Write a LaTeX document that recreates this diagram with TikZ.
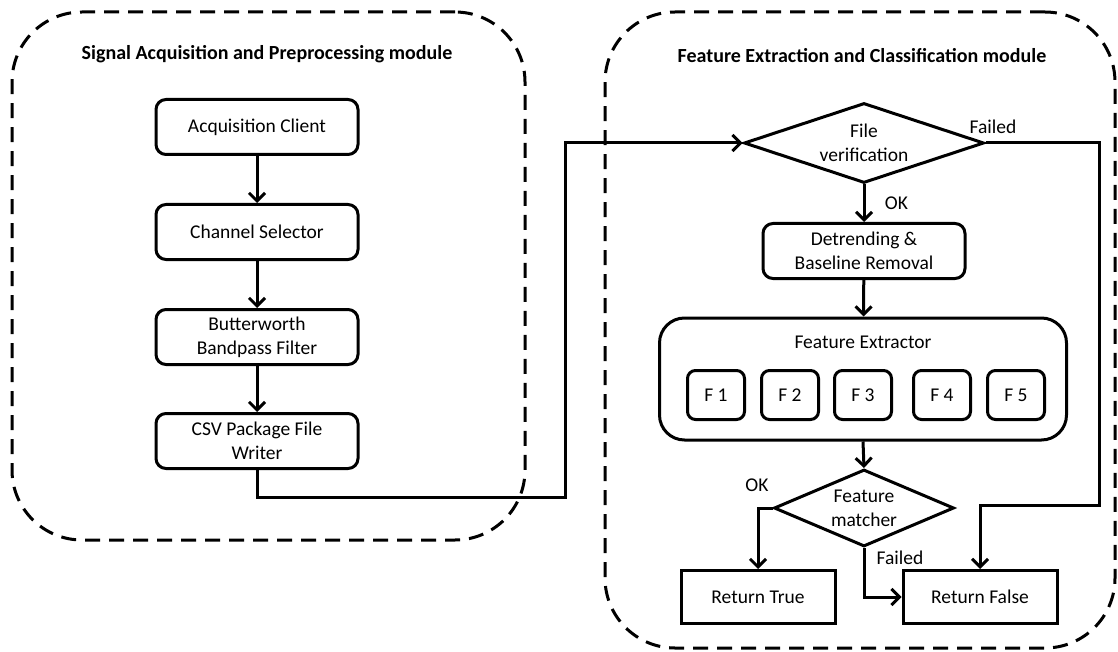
\documentclass[tikz,border=0pt]{standalone}
\usepackage{fontspec}
\setmainfont{Carlito}
\usetikzlibrary{shapes.geometric,arrows.meta}

\tikzset{
  box/.style={draw, line width=3pt, rounded corners=10pt, align=center,
    minimum width=202pt, minimum height=55pt, inner sep=2pt},
  fbox/.style={draw, line width=3pt, rounded corners=8pt,
    minimum width=57pt, minimum height=49pt},
  endbox/.style={draw, line width=3pt, minimum width=154pt, minimum height=53pt},
  decision/.style={draw, diamond, line width=3pt, align=center, inner sep=0pt,
    shape aspect=3},
  module/.style={draw, dashed, line width=3pt, dash pattern=on 15pt off 9pt,
    rounded corners=70pt},
  title/.style={font=\fontsize{20}{23}\selectfont\bfseries},
  arrow/.style={line width=3pt, -{Straight Barb[length=8pt,width=16pt,line width=3pt]}},
}

\begin{document}
\begin{tikzpicture}[x=1pt, y=-1pt, font=\fontsize{19.5}{24}\selectfont]
  \useasboundingbox (0,0) rectangle (1118,652);

  % modules
  \node[module, minimum width=513pt, minimum height=528pt] (leftmod) at (268.5,276) {};
  \node[module, minimum width=510pt, minimum height=636pt] (rightmod) at (860,330) {};
  \node[title] (lefttitle) at (267,54) {Signal Acquisition and Preprocessing module};
  \node[title] (righttitle) at (862,56) {Feature Extraction and Classification module};

  % acquisition side
  \node[box] (acq) at (257,127) {Acquisition Client};
  \node[box] (chan) at (257,232) {Channel Selector};
  \node[box] (bw) at (257,337) {Butterworth\\Bandpass Filter};
  \node[box] (csv) at (257,441) {CSV Package File\\Writer};

  % classification side
  \node[decision, minimum width=240pt, minimum height=80pt] (fv) at (864,143) {File\\verification};
  \node[box] (det) at (864,251) {Detrending \&\\Baseline Removal};
  \node[draw, line width=3pt, rounded corners=25pt, minimum width=407pt,
    minimum height=122pt] (fe) at (863,379) {};
  \node (fetitle) at (863,342) {Feature Extractor};
  \foreach \i/\x in {1/716, 2/790, 3/863, 4/942, 5/1016} {
    \node[fbox] (f\i) at (\x,395) {F \i};
  }
  \node[decision, minimum width=180pt, minimum height=77pt] (fm) at (864,508) {Feature\\matcher};
  \node[endbox] (rt) at (758,597) {Return True};
  \node[endbox] (rf) at (980,597) {Return False};

  \coordinate (c1) at (565,497);
  \coordinate (c2) at (1099,505);

  % connectors
  \draw[arrow] (acq) -- (chan);
  \draw[arrow] (chan) -- (bw);
  \draw[arrow] (bw) -- (csv);
  \draw[arrow] (csv.south) |- (c1) |- (fv.west);
  \draw[arrow] (fv.south) -- (det.north) node[midway, right=16pt] {OK};
  \draw[arrow] (fv.east) -| (c2) -| (rf.north);
  \node (fvfail) at (993,127) {Failed};
  \draw[arrow] (det) -- (fe);
  \draw[arrow] (fe.south) -- (fm.north);
  \draw[arrow] (fm.west) -| (rt.north);
  \node (fmok) at (757,485) {OK};
  \draw[arrow] (fm.south) |- (rf.west);
  \node (fmfail) at (900,558) {Failed};
\end{tikzpicture}
\end{document}
